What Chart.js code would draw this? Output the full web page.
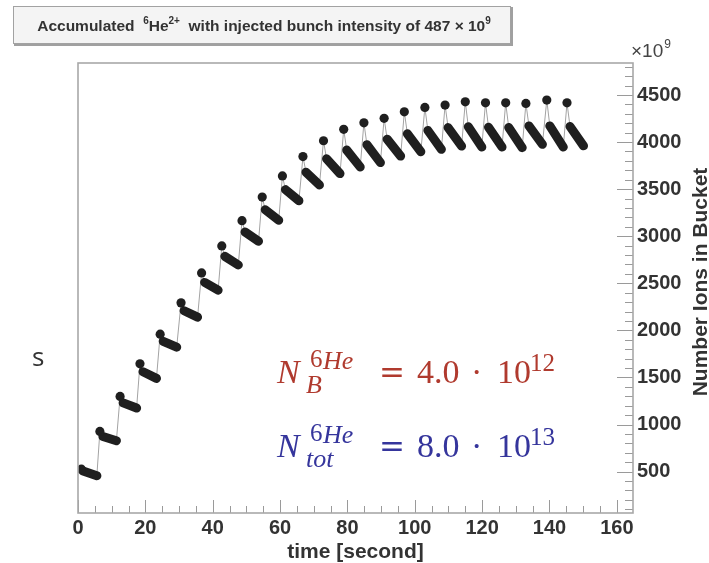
<!DOCTYPE html>
<html>
<head>
<meta charset="utf-8">
<script src="https://cdn.jsdelivr.net/npm/chart.js@4.4.1/dist/chart.umd.min.js"></script>
<style>
  html, body { margin: 0; padding: 0; background: #ffffff; }
  canvas { display: block; }
</style>
</head>
<body>
<canvas id="c" width="709" height="563"></canvas>
<script>
// Injection instants [s] and stored intensity right after each injection [1e9 ions]
const injTime = [1.0, 6.5, 12.5, 18.4, 24.4, 30.6, 36.7, 42.7, 48.7, 54.7, 60.7, 66.8, 72.9,
                 78.9, 84.9, 90.9, 96.9, 103.0, 109.0, 115.0, 121.0, 127.0, 133.0, 139.2, 145.2];
const topValue = [525, 926, 1298, 1645, 1960, 2292, 2610, 2897, 3165, 3416, 3640, 3846, 4014,
                  4135, 4205, 4252, 4321, 4368, 4393, 4428, 4417, 4417, 4411, 4446, 4417];

// Stored bunch between injections: first and last sample of each decay stretch
const blobStartTime = [1.5, 7.4, 13.4, 19.3, 25.3, 31.5, 37.6, 43.6, 49.6, 55.6, 61.6, 67.7, 73.8,
                       79.8, 85.8, 91.8, 97.8, 103.9, 109.9, 115.9, 121.9, 127.9, 133.9, 140.1, 146.1];
const blobStartValue = [505, 872, 1230, 1560, 1884, 2208, 2509, 2786, 3045, 3281, 3495, 3680, 3822,
                        3915, 3972, 4031, 4088, 4123, 4154, 4163, 4158, 4155, 4172, 4172, 4166];
const blobEndTime = [5.6, 11.4, 17.4, 23.3, 29.3, 35.5, 41.6, 47.6, 53.6, 59.6, 65.6, 71.7, 77.8,
                     83.8, 89.8, 95.8, 101.8, 107.9, 113.9, 119.9, 125.9, 131.9, 137.9, 144.1, 150.1];
const blobEndValue = [456, 828, 1175, 1490, 1822, 2140, 2427, 2695, 2946, 3170, 3376, 3544, 3665,
                      3735, 3782, 3851, 3898, 3923, 3958, 3947, 3947, 3941, 3976, 3947, 3960];

// Axis tick labels
const xTicks = [0, 20, 40, 60, 80, 100, 120, 140, 160];
const yTicks = [500, 1000, 1500, 2000, 2500, 3000, 3500, 4000, 4500];

// Build the point lists the datasets need
const topPoints = injTime.map((t, i) => ({ x: t, y: topValue[i] }));
const tracePoints = [];
const blobPoints = [];
for (let k = 0; k < injTime.length; k++) {
  tracePoints.push({ x: injTime[k], y: topValue[k] });
  tracePoints.push({ x: blobStartTime[k], y: blobStartValue[k] });
  tracePoints.push({ x: blobEndTime[k], y: blobEndValue[k] });
  blobPoints.push({ x: blobStartTime[k], y: blobStartValue[k] });
  blobPoints.push({ x: blobEndTime[k], y: blobEndValue[k] });
  blobPoints.push({ x: blobEndTime[k], y: null });
}

const SANS = '"Liberation Sans", Arial, Helvetica, sans-serif';
const SERIF = '"Liberation Serif", "Times New Roman", serif';

function drawRich(ctx, parts, cx, baseY, size, color) {
  // parts: [{t, sup}] drawn centred on cx
  const big = 'bold ' + size + 'px ' + SANS;
  const small = 'bold ' + Math.round(size * 0.62) + 'px ' + SANS;
  let total = 0;
  parts.forEach(p => { ctx.font = p.sup ? small : big; p.w = ctx.measureText(p.t).width; total += p.w; });
  let x = cx - total / 2;
  ctx.fillStyle = color;
  ctx.textBaseline = 'alphabetic';
  ctx.textAlign = 'left';
  parts.forEach(p => {
    ctx.font = p.sup ? small : big;
    ctx.fillText(p.t, x, p.sup ? baseY - size * 0.45 : baseY);
    x += p.w;
  });
}

function put(ctx, text, x, y, font, color) {
  ctx.font = font;
  ctx.fillStyle = color;
  ctx.textAlign = 'left';
  ctx.textBaseline = 'alphabetic';
  ctx.fillText(text, x, y);
  return ctx.measureText(text).width;
}

const decor = {
  id: 'decor',
  afterDraw(chart) {
    const ctx = chart.ctx;
    const a = chart.chartArea;
    const xs = chart.scales.x, ys = chart.scales.y;
    ctx.save();

    // inward tick marks: bottom axis (major 20, minor 5) and right axis (major 500, minor 100)
    ctx.strokeStyle = '#9a9a9a';
    ctx.lineWidth = 1;
    ctx.beginPath();
    for (let v = 0; v <= xs.max + 1e-6; v += 5) {
      const px = Math.round(xs.getPixelForValue(v)) + 0.5;
      const len = (v % 20 === 0) ? 13 : 7;
      ctx.moveTo(px, a.bottom);
      ctx.lineTo(px, a.bottom - len);
    }
    for (let v = 100; v <= ys.max; v += 100) {
      if (v < ys.min) continue;
      const py = Math.round(ys.getPixelForValue(v)) + 0.5;
      const len = (v % 500 === 0) ? 16 : 8;
      ctx.moveTo(a.right, py);
      ctx.lineTo(a.right - len, py);
    }
    ctx.stroke();

    // frame
    ctx.strokeStyle = '#a8a8a8';
    ctx.lineWidth = 1.6;
    ctx.strokeRect(a.left, a.top, a.right - a.left, a.bottom - a.top);

    // title pave with a light shadow
    ctx.fillStyle = '#a0a0a0';
    ctx.fillRect(14, 7, 499, 39);
    ctx.fillStyle = '#f4f4f4';
    ctx.fillRect(13, 6, 498, 38);
    ctx.strokeStyle = '#a2a2a2';
    ctx.lineWidth = 1;
    ctx.strokeRect(13.5, 6.5, 497, 37);
    drawRich(ctx, [
      { t: 'Accumulated  ' }, { t: '6', sup: true }, { t: 'He' }, { t: '2+', sup: true },
      { t: '  with injected bunch intensity of 487 \u00d7 10' }, { t: '9', sup: true }
    ], 264, 31, 15.5, '#333333');

    // exponent of the value axis
    const w = put(ctx, '\u00d710', 631, 57, '19px ' + SANS, '#444444');
    put(ctx, '9', 631 + w + 1, 48, '12px ' + SANS, '#444444');

    // value axis title, reading upwards on the right
    ctx.save();
    ctx.translate(707, 282);
    ctx.rotate(-Math.PI / 2);
    ctx.font = 'bold 21px ' + SANS;
    ctx.fillStyle = '#333333';
    ctx.textAlign = 'center';
    ctx.textBaseline = 'alphabetic';
    ctx.fillText('Number Ions in Bucket', 0, 0);
    ctx.restore();

    // stacked intensity formulas
    const red = '#b03a2e', blue = '#35359c';
    const rows = [
      { base: 383, color: red, sub: 'B', val: '4.0', exp: '12' },
      { base: 457, color: blue, sub: 'tot', val: '8.0', exp: '13' }
    ];
    rows.forEach(r => {
      put(ctx, 'N', 277, r.base, 'italic 34px ' + SERIF, r.color);
      put(ctx, '6', 310, r.base - 16, '25px ' + SERIF, r.color);
      put(ctx, 'He', 323, r.base - 14, 'italic 26px ' + SERIF, r.color);
      put(ctx, r.sub, 306, r.base + 10, 'italic 26px ' + SERIF, r.color);
      put(ctx, '=', 379, r.base, '31px "DejaVu Serif", serif', r.color);
      put(ctx, r.val, 417, r.base, '34px ' + SERIF, r.color);
      put(ctx, '\u00b7', 471, r.base, '34px ' + SERIF, r.color);
      put(ctx, '10', 497, r.base, '34px ' + SERIF, r.color);
      put(ctx, r.exp, 530, r.base - 12, '25px ' + SERIF, r.color);
    });

    // stray letter at the left margin
    put(ctx, 's', 32, 366, '26px "Open Sans", sans-serif', '#333333');

    ctx.restore();
  }
};

const tickFont = { family: SANS, weight: 'bold', size: 20 };

new Chart(document.getElementById('c'), {
  type: 'scatter',
  data: {
    datasets: [
      {
        label: 'after injection', data: topPoints, type: 'scatter',
        pointRadius: 4.6, pointBackgroundColor: '#1f1f1f', pointBorderWidth: 0,
        pointHoverRadius: 4.6, showLine: false, order: 0
      },
      {
        label: 'stored bunch', data: blobPoints, type: 'line',
        borderColor: '#1f1f1f', borderWidth: 9, borderCapStyle: 'round', borderJoinStyle: 'round',
        pointRadius: 0, spanGaps: false, tension: 0, fill: false, order: 1
      },
      {
        label: 'trace', data: tracePoints, type: 'line',
        borderColor: '#a3a3a3', borderWidth: 1, pointRadius: 0, tension: 0, fill: false, order: 2
      }
    ]
  },
  options: {
    responsive: false,
    animation: false,
    devicePixelRatio: 1,
    layout: { padding: { left: 78, top: 63, right: 0, bottom: 0 } },
    plugins: { legend: { display: false }, tooltip: { enabled: false }, title: { display: false } },
    scales: {
      x: {
        type: 'linear', min: 0, max: 164.8,
        afterBuildTicks: s => { s.ticks = xTicks.map(v => ({ value: v })); },
        afterFit: s => { s.height = 50; },
        grid: { display: false, drawTicks: false },
        border: { display: false },
        ticks: { font: tickFont, color: '#333333', padding: 3, maxRotation: 0, autoSkip: false,
                 callback: v => String(v) },
        title: {
          display: true, text: 'time [second]', color: '#333333',
          font: { family: SANS, weight: 'bold', size: 21, lineHeight: 1 },
          padding: { top: 0, bottom: 0 }
        }
      },
      y: {
        type: 'linear', position: 'right', min: 60, max: 4840,
        afterBuildTicks: s => { s.ticks = yTicks.map(v => ({ value: v })); },
        afterFit: s => { s.width = 76; },
        grid: { display: false, drawTicks: false },
        border: { display: false },
        ticks: { font: tickFont, color: '#333333', padding: 4, autoSkip: false,
                 callback: v => String(v) }
      }
    }
  },
  plugins: [decor]
});
</script>
</body>
</html>
